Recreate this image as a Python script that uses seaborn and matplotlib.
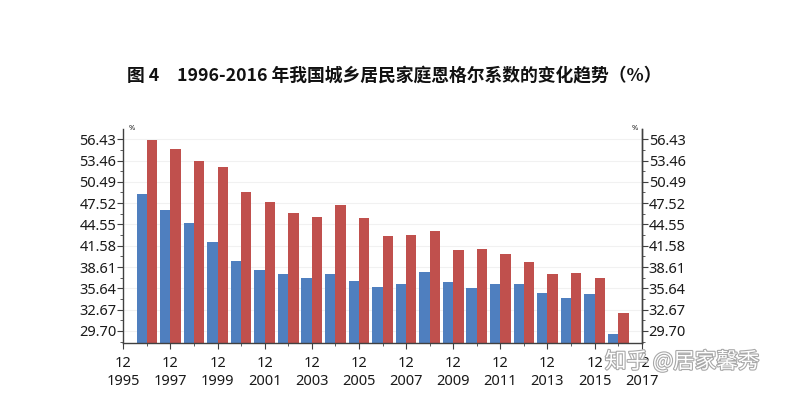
import matplotlib
matplotlib.use("Agg")
import matplotlib.pyplot as plt
import matplotlib.patheffects as pe
from matplotlib.ticker import FixedLocator, MultipleLocator
import seaborn as sns
import pandas as pd

years = [1996, 1997, 1998, 1999, 2000, 2001, 2002, 2003, 2004, 2005, 2006,
         2007, 2008, 2009, 2010, 2011, 2012, 2013, 2014, 2015, 2016]
urban = [48.8, 46.6, 44.7, 42.1, 39.4, 38.2, 37.7, 37.1, 37.7, 36.7, 35.8,
         36.3, 37.9, 36.5, 35.7, 36.3, 36.2, 35.0, 34.3, 34.8, 29.3]
rural = [56.3, 55.1, 53.4, 52.6, 49.1, 47.7, 46.2, 45.6, 47.2, 45.5, 43.0,
         43.1, 43.7, 41.0, 41.1, 40.4, 39.3, 37.7, 37.8, 37.1, 32.2]
series_names = ["城镇", "农村"]
y_ticks = [29.70, 32.67, 35.64, 38.61, 41.58, 44.55, 47.52, 50.49, 53.46, 56.43]
x_label_years = [1995, 1997, 1999, 2001, 2003, 2005, 2007, 2009, 2011, 2013, 2015, 2017]
month_label = "12"
title = "图 4　1996-2016 年我国城乡居民家庭恩格尔系数的变化趋势（%）"
watermark = "知乎 @居家馨秀"

df = pd.DataFrame({
    "year": years * 2,
    "value": urban + rural,
    "series": [series_names[0]] * len(years) + [series_names[1]] * len(years),
})

sns.set_theme(style="white")
plt.rcParams["font.family"] = ["Noto Sans", "DejaVu Sans"]

fig = plt.figure(figsize=(7.95, 3.94), dpi=100)
ax = fig.add_axes([0.1551, 0.1290, 0.6521, 0.5444])

sns.barplot(data=df, x="year", y="value", hue="series", hue_order=series_names,
            palette=["#4f7fbf", "#c0504d"], native_scale=True, width=0.88,
            errorbar=None, legend=False, ax=ax, saturation=1, linewidth=0)

ylo, yhi = 28.0, 57.9
ax.set_xlim(1995, 2017)
ax.set_ylim(ylo, yhi)
ax.set_xlabel("")
ax.set_ylabel("")

minor_y = [y_ticks[0] - 1.485] + [v + 1.485 for v in y_ticks[:-1]]
ax.yaxis.set_major_locator(FixedLocator(y_ticks))
ax.set_yticklabels([f"{v:.2f}" for v in y_ticks])
ax.yaxis.set_minor_locator(FixedLocator(minor_y))
ax.xaxis.set_major_locator(FixedLocator(x_label_years))
ax.set_xticklabels([f"{month_label}\n{y}" for y in x_label_years])
ax.xaxis.set_minor_locator(MultipleLocator(1))

spine_color = "#404040"
for side in ["left", "bottom", "right"]:
    ax.spines[side].set_visible(True)
    ax.spines[side].set_color(spine_color)
    ax.spines[side].set_linewidth(1.0)
ax.spines["top"].set_visible(False)

ax.tick_params(axis="y", which="major", direction="out", length=4, width=0.8,
               color=spine_color, labelsize=10.5, labelcolor="#1a1a1a", pad=1, left=True)
ax.tick_params(axis="y", which="minor", direction="out", length=2.5, width=0.6,
               color=spine_color, left=True)
ax.tick_params(axis="x", which="major", direction="out", length=4.5, width=0.8,
               color=spine_color, labelsize=10.5, labelcolor="#1a1a1a", pad=4.5, bottom=True)
ax.tick_params(axis="x", which="minor", direction="out", length=2.5, width=0.6,
               color=spine_color, bottom=True)
for lbl in ax.get_xticklabels():
    lbl.set_linespacing(1.3)

ax.grid(axis="y", which="major", color="#f1f1f1", linewidth=0.8)
ax.set_axisbelow(True)

ax2 = ax.twinx()
ax2.set_ylim(ylo, yhi)
ax2.yaxis.set_major_locator(FixedLocator(y_ticks))
ax2.set_yticklabels([f"{v:.2f}" for v in y_ticks])
ax2.yaxis.set_minor_locator(FixedLocator(minor_y))
for side in ["left", "bottom", "top"]:
    ax2.spines[side].set_visible(False)
ax2.spines["right"].set_visible(True)
ax2.spines["right"].set_color(spine_color)
ax2.spines["right"].set_linewidth(1.0)
ax2.tick_params(axis="y", which="major", direction="out", length=4, width=0.8,
                color=spine_color, labelsize=10.5, labelcolor="#1a1a1a", pad=1, right=True)
ax2.tick_params(axis="y", which="minor", direction="out", length=2.5, width=0.6,
                color=spine_color, right=True)
ax2.grid(False)

fig.text(129 / 795, 1 - 129 / 394, "%", fontsize=5.5, ha="left", va="center", color="#1a1a1a")
fig.text(638 / 795, 1 - 129 / 394, "%", fontsize=5.5, ha="right", va="center", color="#1a1a1a")

fig.text(127 / 795, 1 - 75 / 394, title, fontsize=12.8, fontweight="bold",
         ha="left", va="center", color="#111111",
         family=["Noto Sans CJK SC", "DejaVu Sans"])

fig.text(605 / 795, 1 - 362 / 394, watermark, fontsize=15.5, ha="left", va="center",
         color="white", family=["Noto Sans CJK SC", "DejaVu Sans"],
         path_effects=[pe.withStroke(linewidth=1.6, foreground="#a8a8a8")])

fig.savefig("out.png", dpi=100, facecolor="white")
